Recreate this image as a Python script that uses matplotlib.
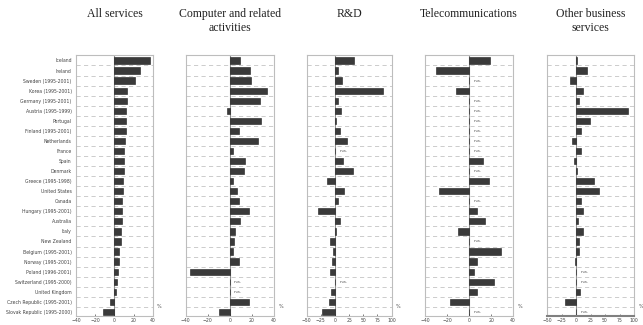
import matplotlib.pyplot as plt
import numpy as np

countries = ["Iceland", "Ireland", "Sweden (1995-2001)", "Korea (1995-2001)",
             "Germany (1995-2001)", "Austria (1995-1999)", "Portugal",
             "Finland (1995-2001)", "Netherlands", "France", "Spain", "Denmark",
             "Greece (1995-1998)", "United States", "Canada", "Hungary (1995-2001)",
             "Australia", "Italy", "New Zealand", "Belgium (1995-2001)",
             "Norway (1995-2001)", "Poland (1996-2001)", "Switzerland (1995-2000)",
             "United Kingdom", "Czech Republic (1995-2001)", "Slovak Republic (1995-2000)"]

# None = n.a.
all_services = [37, 26, 21.5, 13, 12.5, 12, 11.8, 11.8, 11, 10.4, 9.7, 9.7, 9,
                9, 8.3, 8.3, 7.6, 7.3, 6.6, 5.2, 5.2, 3.8, 2.8, 1.7, -4.8, -11.7]
computer = [9.4, 18.2, 19.1, 33.3, 27.6, -2.4, 28.2, 7.9, 25.5, 2.7, 13.9, 12.7, 2.4,
            6.7, 7.9, 17.6, 8.8, 4.8, 4.2, 2.4, 7.9, -36.4, None, None, 17.3, -10]
rnd = [34, 6, 12, 85, 6, 10.5, 1.2, 9.3, 21.6, None, 13.6, 31, -14,
       16, 6, -30, 9.3, 2.5, -9.3, -3.7, -5.6, -8, None, -7.4, -9.9, -23.5]
telecom = [18.6, -30.4, None, -11.8, None, None, None, None, None, None, 13, None, 17.7,
           -27, None, 6.8, 14.9, -10.2, None, 28.8, 6.8, 4.3, 23, 6.8, -17, None]
other_business = [1, 18.5, -10.7, 12.5, 4.2, 90, 23.2, 8.3, -6.5, 7.7, -4.2, 1.8, 30.4,
                  39.9, 8.3, 11.9, 3.6, 12.5, 4.2, 4.8, -2.4, None, None, 6, -18.5, None]

titles = ["All services", "Computer and related\nactivities", "R&D",
          "Telecommunications", "Other business\nservices"]
series = [all_services, computer, rnd, telecom, other_business]
xlims = [(-40, 40), (-40, 40), (-50, 100), (-40, 40), (-50, 100)]
xticks = [[-40, -20, 0, 20, 40], [-40, -20, 0, 20, 40],
          [-50, -25, 0, 25, 50, 75, 100], [-40, -20, 0, 20, 40],
          [-50, -25, 0, 25, 50, 75, 100]]

# axes rectangles in figure fractions
rects = [[0.118, 0.028, 0.120, 0.803],
         [0.289, 0.028, 0.137, 0.803],
         [0.477, 0.028, 0.132, 0.803],
         [0.661, 0.028, 0.137, 0.803],
         [0.851, 0.028, 0.135, 0.803]]

fig = plt.figure(figsize=(6.43, 3.25), dpi=100)
y = np.arange(len(countries))

for i in range(5):
    ax = fig.add_axes(rects[i])
    vals = np.array([np.nan if v is None else v for v in series[i]], dtype=float)
    for k in range(len(countries) - 1):
        ax.axhline(k + 0.5, color='#c4c4c4', lw=0.6, ls=(0, (5, 4)), zorder=0)
    ax.axvline(0, color='#8c8c8c', lw=0.8, zorder=1)
    ax.barh(y, np.nan_to_num(vals), height=0.62, color='#3a3a3a',
            edgecolor='#1e1e1e', linewidth=0.4, zorder=2)
    for k, v in enumerate(vals):
        if np.isnan(v):
            ax.annotate('n.a.', (0, k), xytext=(3, 0), textcoords='offset points',
                        fontsize=3.2, va='center', color='#555555')
    ax.set_xlim(*xlims[i])
    ax.set_ylim(len(countries) - 0.6, -0.55)
    ax.set_xticks(xticks[i])
    ax.tick_params(axis='x', labelsize=3.3, length=1.5, width=0.5, pad=1.5,
                   colors='#444444', direction='in')
    if i == 0:
        ax.set_yticks(y)
        ax.set_yticklabels(countries, fontsize=3.3, color='#444444')
        ax.tick_params(axis='y', length=0, pad=3)
    else:
        ax.set_yticks([])
    for s in ax.spines.values():
        s.set_color('#bdbdbd')
        s.set_linewidth(0.8)
    if i == 4:
        ax.spines['bottom'].set_color('#808080')
        ax.spines['bottom'].set_linewidth(1.5)
    ax.text(1.05, 0.03, '%', transform=ax.transAxes, fontsize=3.5, color='#444444')
    cx = rects[i][0] + rects[i][2] / 2
    fig.text(cx, 0.975, titles[i], ha='center', va='top', fontsize=8.5,
             family='Liberation Serif', linespacing=1.25, color='#222222')

plt.savefig('out.png', dpi=100)
plt.close()
